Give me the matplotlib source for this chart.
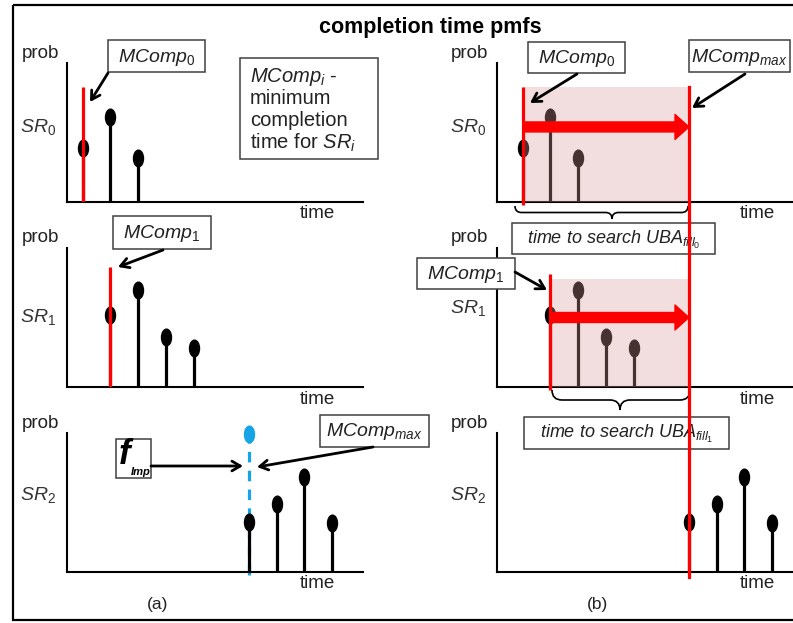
import matplotlib
matplotlib.use("Agg")
import matplotlib.pyplot as plt
from matplotlib.path import Path
from matplotlib.patches import Rectangle, FancyArrowPatch, PathPatch
from matplotlib.transforms import Affine2D, blended_transform_factory

plt.rcParams['font.family'] = ['Liberation Sans', 'DejaVu Sans']
plt.rcParams['mathtext.fontset'] = 'custom'
plt.rcParams['mathtext.rm'] = 'Liberation Sans'
plt.rcParams['mathtext.it'] = 'Liberation Sans:italic'
plt.rcParams['mathtext.bf'] = 'Liberation Sans:bold:italic'

# pmf data (time slots, probabilities)
sr0_t = [1, 2, 3]
sr0_p = [0.39, 0.61, 0.32]
sr1_t = [2, 3, 4, 5]
sr1_p = [0.52, 0.70, 0.36, 0.28]
sr2_t = [7, 8, 9, 10]
sr2_p = [0.36, 0.49, 0.68, 0.35]

mcomp_t = [1, 2]          # MComp_0, MComp_1
mcomp_top = [0.83, 0.86]  # height of the red markers (a)
shade_top = [0.83, 0.78]  # shaded search windows (b)
arrow_y = [0.54, 0.50]
mcomp_max_t = 7
f_imp_t = 7
f_imp_p = 0.99

W, H = 793, 623
fig = plt.figure(figsize=(W / 100, H / 100), dpi=100)

dot = Path.unit_circle().transformed(Affine2D().scale(0.6, 1.0))
RED = '#ff0000'
BLUE = '#17a4e6'
FS = 13.5   # plain labels
MS = 14     # italic math labels


def panel(x0, y0, x1, y1, xlo, xhi):
    ax = fig.add_axes([x0 / W, 1 - y1 / H, (x1 - x0) / W, (y1 - y0) / H])
    ax.set_xlim(xlo, xhi)
    ax.set_ylim(0, 1)
    ax.spines['top'].set_visible(False)
    ax.spines['right'].set_visible(False)
    ax.spines['left'].set_linewidth(1.5)
    ax.spines['bottom'].set_linewidth(1.5)
    ax.set_xticks([])
    ax.set_yticks([])
    ax.patch.set_visible(False)
    return ax


def stems(ax, t, p, color='black'):
    ax.vlines(t, 0, p, color=color, lw=2.3, zorder=2)
    ax.plot(t, p, ls='none', marker=dot, ms=12, color=color, mec=color, zorder=3, clip_on=False)


# x pixel = offset + 27.7 * t
lx = ((67 - 55) / 27.7, (363 - 55) / 27.7)
rx = ((497 - 495) / 27.7, (793 - 495) / 27.7)

a0 = panel(67, 63, 363, 202, *lx)
a1 = panel(67, 248, 363, 387, *lx)
a2 = panel(67, 433, 363, 572, *lx)
b0 = panel(497, 63, 793, 202, *rx)
b1 = panel(497, 248, 793, 387, *rx)
b2 = panel(497, 433, 793, 572, *rx)

# (a) column
stems(a0, sr0_t, sr0_p)
a0.vlines(mcomp_t[0], 0, mcomp_top[0], color=RED, lw=2.3, zorder=4)
stems(a1, sr1_t, sr1_p)
a1.vlines(mcomp_t[1], 0, mcomp_top[1], color=RED, lw=2.3, zorder=4)
a2.vlines(f_imp_t, -0.02, f_imp_p, color=BLUE, lw=2.3, ls=(0, (3.3, 2.6)), zorder=1, clip_on=False)
a2.plot([f_imp_t], [f_imp_p], ls='none', marker=dot, ms=12, color=BLUE, zorder=3, clip_on=False)
stems(a2, sr2_t, sr2_p)

# (b) column
for ax, t, p, i in [(b0, sr0_t, sr0_p, 0), (b1, sr1_t, sr1_p, 1)]:
    stems(ax, t, p)
    ax.fill_between([mcomp_t[i], mcomp_max_t], 0, shade_top[i],
                    color='#da9b9b', alpha=0.33, lw=0, zorder=4)
    ax.vlines(mcomp_t[i], -0.02, shade_top[i] + 0.03 * i, color=RED, lw=2.3,
              zorder=5, clip_on=False)
    ax.add_patch(FancyArrowPatch((mcomp_t[i], arrow_y[i]), (mcomp_max_t, arrow_y[i]),
                                 arrowstyle='simple,head_length=1.0,head_width=1.8,tail_width=0.72',
                                 mutation_scale=10, color=RED, shrinkA=0, shrinkB=0, zorder=6))
stems(b2, sr2_t, sr2_p)

# overlay in pixel coordinates for labels and callouts
ov = fig.add_axes([0, 0, 1, 1], zorder=10)
ov.patch.set_visible(False)
ov.axis('off')

trans = blended_transform_factory(b2.transData, ov.transData)
ov.plot([mcomp_max_t, mcomp_max_t], [87, 577], color=RED, lw=2.3, transform=trans, zorder=20)

ov.add_patch(Rectangle((13, 5), 783, 615, fill=False, ec='black', lw=1.6))
ov.text(430, 28, 'completion time pmfs', fontsize=15.5, fontweight='bold', ha='center', va='center')

for cx in (40, 469):
    for y in (53, 238, 423):
        ov.text(cx, y, 'prob', fontsize=FS, ha='center', va='center', color='#222222')
for cx in (317, 757):
    for y in (213, 399, 584):
        ov.text(cx, y, 'time', fontsize=FS, ha='center', va='center', color='#222222')

for cx, ys in [(38, (127, 317, 495)), (468, (127, 308, 495))]:
    for k, y in enumerate(ys):
        ov.text(cx, y, r'$SR_{\mathit{%d}}$' % k, fontsize=MS, ha='center', va='center',
                color='#333333')

ov.text(158, 605, '(a)', fontsize=12.5, ha='center', va='center', color='#222222')
ov.text(597, 605, '(b)', fontsize=12.5, ha='center', va='center', color='#222222')


def box(x0, y0, x1, y1, label, size=MS):
    ov.add_patch(Rectangle((x0, y0), x1 - x0, y1 - y0, fc='white', ec='#404040', lw=1.1, zorder=5))
    if label:
        ov.text((x0 + x1) / 2, (y0 + y1) / 2 + 1, label, fontsize=size, ha='center',
                va='center', zorder=6, color='#222222')


def arrow(frm, to):
    ov.annotate('', xy=to, xytext=frm, zorder=7,
                arrowprops=dict(arrowstyle='->,head_length=0.6,head_width=0.35', lw=2,
                                color='black', shrinkA=0, shrinkB=0))


box(108, 40, 205, 72, r'$MComp_{\mathit{0}}$')
arrow((108, 73), (90, 102))
box(240, 58, 378, 159, None)
for y, s in zip([77, 98, 120, 143],
                [r'$MComp_i$ -', 'minimum', 'completion', r'time for $SR_i$']):
    ov.text(250, y, s, fontsize=14.5, ha='left', va='center', zorder=6, color='#222222')

box(113, 216, 211, 249, r'$MComp_{\mathit{1}}$')
arrow((163, 250), (118, 267))

box(116, 439, 151, 478, None)
ov.text(125, 455, 'f', fontsize=25, fontweight='bold', style='italic', ha='center',
        va='center', zorder=6)
ov.text(141, 472, 'Imp', fontsize=8, fontweight='bold', style='italic', ha='center',
        va='center', zorder=6)
arrow((151, 466), (243, 466))
box(320, 415, 429, 447, r'$MComp_{max}$')
arrow((373, 447), (257, 467))

box(528, 42, 625, 73, r'$MComp_{\mathit{0}}$')
arrow((577, 74), (530, 103))
box(689, 40, 790, 72, r'$MComp_{max}$')
arrow((745, 74), (692, 108))
box(512, 223, 715, 254, r'$time\ to\ search\ UBA_{fill_{\mathit{0}}}$', size=13)
box(417, 258, 515, 289, r'$MComp_{\mathit{1}}$')
arrow((515, 272), (547, 290))
box(524, 417, 729, 449, r'$time\ to\ search\ UBA_{fill_{\mathit{1}}}$', size=13)


def brace(x0, x1, xm, ytop, depth):
    ym = ytop + depth / 2
    q = depth / 2
    verts = [(x0, ytop), (x0, ym), (x0 + q, ym), (xm - q, ym), (xm, ym), (xm, ytop + depth),
             (xm, ym), (xm + q, ym), (x1 - q, ym), (x1, ym), (x1, ytop)]
    codes = [Path.MOVETO, Path.CURVE3, Path.CURVE3, Path.LINETO, Path.CURVE3, Path.CURVE3,
             Path.CURVE3, Path.CURVE3, Path.LINETO, Path.CURVE3, Path.CURVE3]
    ov.add_patch(PathPatch(Path(verts, codes), fill=False, ec='black', lw=1.2, zorder=4))


brace(515, 688, 612, 206, 13)
brace(552, 690, 620, 390, 20)

ov.set_xlim(0, W)
ov.set_ylim(H, 0)

fig.savefig('out.png', dpi=100)
